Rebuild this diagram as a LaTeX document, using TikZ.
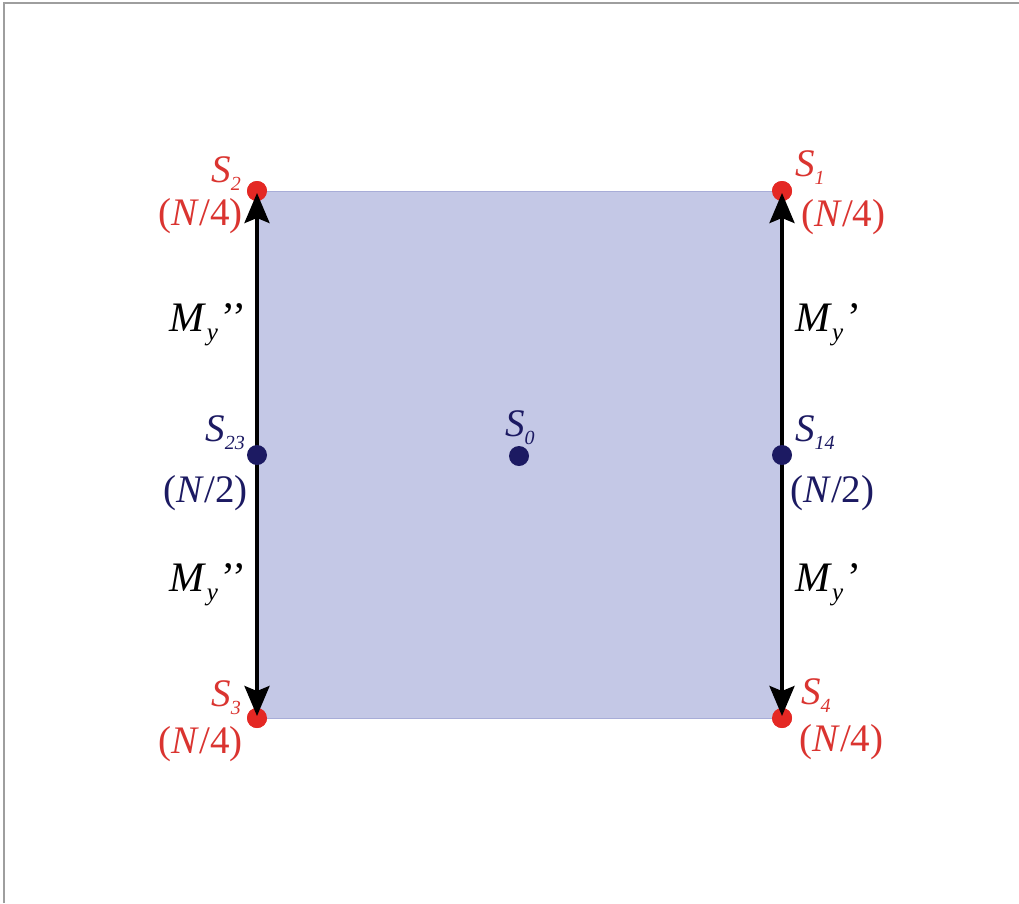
\documentclass[tikz,border=0pt]{standalone}
\usepackage{fontspec}
\setmainfont{Liberation Serif}
\usetikzlibrary{arrows.meta}
\definecolor{sqfill}{RGB}{196,200,230}
\definecolor{sqedge}{RGB}{168,173,216}
\definecolor{ptred}{RGB}{228,40,36}
\definecolor{txtred}{RGB}{218,52,48}
\definecolor{ptnavy}{RGB}{28,26,98}
\newcommand{\Slab}[1]{\textit{S}\raisebox{-8pt}{\fontsize{20}{20}\selectfont\textit{#1}}}
\newcommand{\Nlab}[1]{(\textit{N}/#1)}
\newcommand{\Mlab}[1]{\textit{M}\raisebox{-9pt}{\fontsize{25}{25}\selectfont\textit{y}}\hspace{4pt}#1}

\begin{document}
\begin{tikzpicture}[x=1pt,y=-1pt,
  reddot/.style={circle, fill=ptred, minimum size=20pt, inner sep=0pt},
  navydot/.style={circle, fill=ptnavy, minimum size=20pt, inner sep=0pt},
  redlbl/.style={text=txtred, inner sep=0pt, font=\fontsize{39}{39}\selectfont},
  navylbl/.style={text=ptnavy, inner sep=0pt, font=\fontsize{39}{39}\selectfont},
  momlbl/.style={text=black, inner sep=0pt, font=\fontsize{42}{42}\selectfont},
  arr/.style={line width=3.5pt, -{Stealth[length=30pt,width=25pt,inset=5pt]}, shorten >=2pt}]
\useasboundingbox (0,0) rectangle (1019,903);
\draw[line width=1.5pt, black!38] (4,903) -- (4,3) -- (1019,3);
\node[reddot] (s2) at (257,191) {};
\node[reddot] (s1) at (782,191) {};
\node[reddot] (s3) at (257,718) {};
\node[reddot] (s4) at (782,718) {};
\fill[sqfill] (s2.center) rectangle (s4.center);
\draw[line width=1pt, sqedge] (s2.center) rectangle (s4.center);
\node[reddot] at (s2) {};
\node[reddot] at (s1) {};
\node[reddot] at (s3) {};
\node[reddot] at (s4) {};
\coordinate (s23) at (257,455);
\coordinate (s14) at (782,455);
\draw[arr] (s23) -- (s2.center);
\draw[arr] (s23) -- (s3.center);
\draw[arr] (s14) -- (s1.center);
\draw[arr] (s14) -- (s4.center);
\node[navydot] (p23) at (s23) {};
\node[navydot] (p14) at (s14) {};
\node[navydot] (p0) at (519,456) {};
\node[redlbl, anchor=base east] (l2) at (241,182) {\Slab{2}};
\node[redlbl, anchor=base east] (n2) at (243,225) {\Nlab{4}};
\node[redlbl, anchor=base west] (l1) at (795,176) {\Slab{1}};
\node[redlbl, anchor=base west] (n1) at (801,226) {\Nlab{4}};
\node[redlbl, anchor=base east] (l3) at (241,706) {\Slab{3}};
\node[redlbl, anchor=base east] (n3) at (243,753) {\Nlab{4}};
\node[redlbl, anchor=base west] (l4) at (801,704) {\Slab{4}};
\node[redlbl, anchor=base west] (n4) at (799,751) {\Nlab{4}};
\node[navylbl, anchor=base east] (l23) at (245,441) {\Slab{23}};
\node[navylbl, anchor=base east] (n23) at (248,502) {\Nlab{2}};
\node[navylbl, anchor=base west] (l14) at (795,441) {\Slab{14}};
\node[navylbl, anchor=base west] (n14) at (790,502) {\Nlab{2}};
\node[navylbl, anchor=base west] (l0) at (505,436) {\Slab{0}};
\node[momlbl, anchor=base east] (m1) at (247,331) {\Mlab{’’}};
\node[momlbl, anchor=base west] (m2) at (795,331) {\Mlab{’}};
\node[momlbl, anchor=base east] (m3) at (247,591) {\Mlab{’’}};
\node[momlbl, anchor=base west] (m4) at (795,591) {\Mlab{’}};
\end{tikzpicture}
\end{document}
